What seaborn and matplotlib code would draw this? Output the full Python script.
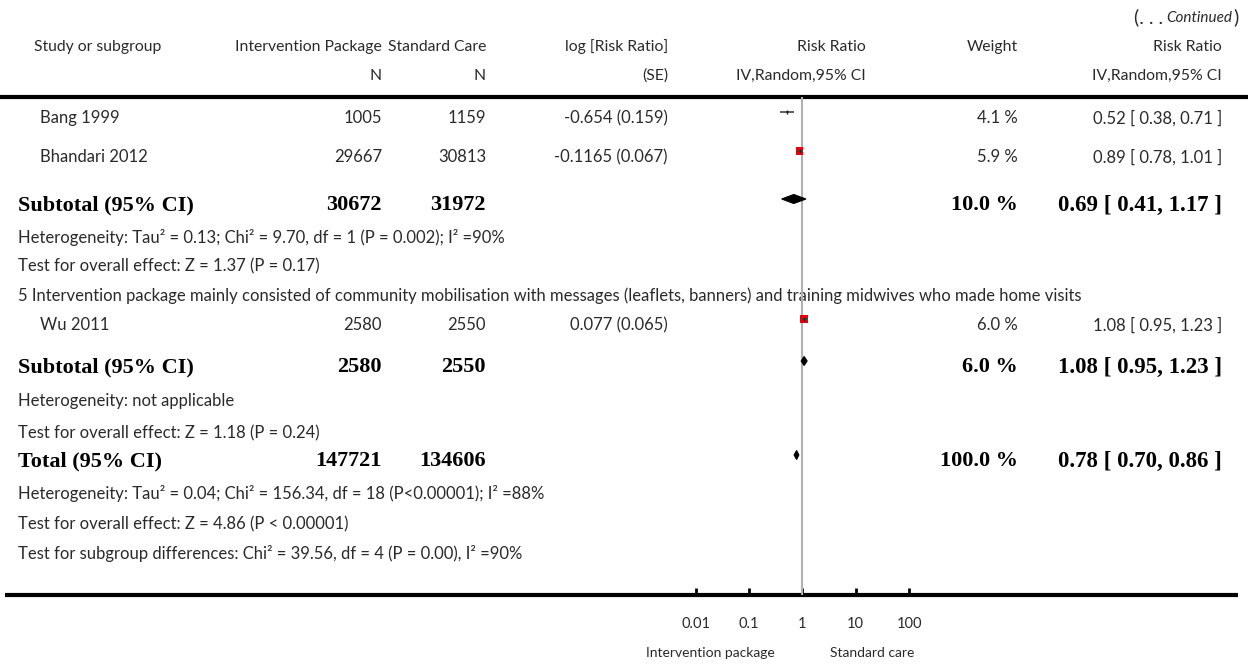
import numpy as np
import pandas as pd
import matplotlib
matplotlib.use("Agg")
import matplotlib.pyplot as plt
import seaborn as sns
from matplotlib.patches import Polygon

# ---------------- data ----------------
study_names = ["Bang 1999", "Bhandari 2012", "Wu 2011"]
study_n_int = [1005, 29667, 2580]
study_n_std = [1159, 30813, 2550]
study_logrr_se = ["-0.654 (0.159)", "-0.1165 (0.067)", "0.077 (0.065)"]
study_weight = [4.1, 5.9, 6.0]
study_rr = [0.52, 0.89, 1.08]
study_lo = [0.38, 0.78, 0.95]
study_hi = [0.71, 1.01, 1.23]

pooled_labels = ["Subtotal (95% CI)", "Subtotal (95% CI)", "Total (95% CI)"]
pooled_n_int = [30672, 2580, 147721]
pooled_n_std = [31972, 2550, 134606]
pooled_weight = [10.0, 6.0, 100.0]
pooled_rr = [0.69, 1.08, 0.78]
pooled_lo = [0.41, 0.95, 0.70]
pooled_hi = [1.17, 1.23, 0.86]

note_lines = [
    "Heterogeneity: Tau\u00b2 = 0.13; Chi\u00b2 = 9.70, df = 1 (P = 0.002); I\u00b2 =90%",
    "Test for overall effect: Z = 1.37 (P = 0.17)",
    "5 Intervention package mainly consisted of community mobilisation with messages (leaflets, banners) and training midwives who made home visits",
    "Heterogeneity: not applicable",
    "Test for overall effect: Z = 1.18 (P = 0.24)",
    "Heterogeneity: Tau\u00b2 = 0.04; Chi\u00b2 = 156.34, df = 18 (P<0.00001); I\u00b2 =88%",
    "Test for overall effect: Z = 4.86 (P < 0.00001)",
    "Test for subgroup differences: Chi\u00b2 = 39.56, df = 4 (P = 0.00), I\u00b2 =90%",
]

axis_ticks = [0.01, 0.1, 1, 10, 100]
axis_tick_labels = ["0.01", "0.1", "1", "10", "100"]
favours_left = "Intervention package"
favours_right = "Standard care"

# ---------------- layout (pixels) ----------------
W, H = 1248, 664
study_y = [118, 157, 325]
pooled_y = [205, 367, 461]
note_y = [237, 266, 296, 401, 433, 494, 524, 553]
mark_dy = -6
top_line_y, bottom_line_y = 97, 595
col_int, col_std, col_log, col_rr_hdr, col_w, col_rr = 382, 486, 668, 866, 1018, 1222

sns.set_theme(style="white")
plt.rcParams["font.family"] = ["Lato", "DejaVu Sans"]
sans = ["Lato", "DejaVu Sans"]
serif = ["Liberation Serif", "DejaVu Serif"]
txt_col = "#2a2a2a"
fs = 12
fsh = 11.3
fsb = 16

fig = plt.figure(figsize=(W / 100, H / 100), dpi=100)
ax = fig.add_axes([0, 0, 1, 1])
ax.set_xlim(0, W)
ax.set_ylim(H, 0)
ax.axis("off")

def t(x, y, s, ha="left", bold=False, size=None, **kw):
    if bold:
        ax.text(x, y, s, ha=ha, va="center", family=serif, fontweight="bold",
                fontsize=size or fsb, color="black", **kw)
    else:
        ax.text(x, y, s, ha=ha, va="center", family=sans, fontsize=size or fs,
                color=txt_col, **kw)

# continued
t(1239, 17, ")", ha="right", size=14)
t(1232, 18, "Continued", ha="right", style="italic", size=11)
t(1163, 17, "(. . .", ha="right", size=14)

# header
t(34, 47, "Study or subgroup", size=fsh)
t(col_int, 47, "Intervention Package", ha="right", size=fsh)
t(col_int, 76, "N", ha="right", size=fsh)
t(col_std, 47, "Standard Care", ha="right", size=fsh)
t(col_std, 76, "N", ha="right", size=fsh)
t(col_log, 47, "log [Risk Ratio]", ha="right", size=fsh)
t(col_log, 76, "(SE)", ha="right", size=fsh)
t(col_rr_hdr, 47, "Risk Ratio", ha="right", size=fsh)
t(col_rr_hdr, 76, "IV,Random,95% CI", ha="right", size=fsh)
t(col_w, 47, "Weight", ha="right", size=fsh)
t(col_rr, 47, "Risk Ratio", ha="right", size=fsh)
t(col_rr, 76, "IV,Random,95% CI", ha="right", size=fsh)

ax.plot([0, W], [top_line_y, top_line_y], color="black", lw=3, solid_capstyle="butt")
ax.plot([5, 1238], [bottom_line_y, bottom_line_y], color="black", lw=3, solid_capstyle="butt")

for i, name in enumerate(study_names):
    y = study_y[i]
    t(40, y, name)
    t(col_int, y, str(study_n_int[i]), ha="right")
    t(col_std, y, str(study_n_std[i]), ha="right")
    t(col_log, y, study_logrr_se[i], ha="right")
    t(col_w, y, f"{study_weight[i]:.1f} %", ha="right")
    t(col_rr, y, f"{study_rr[i]:.2f} [ {study_lo[i]:.2f}, {study_hi[i]:.2f} ]", ha="right")

for i, lab in enumerate(pooled_labels):
    y = pooled_y[i]
    t(18, y, lab, bold=True)
    t(col_int, y, str(pooled_n_int[i]), ha="right", bold=True)
    t(col_std, y, str(pooled_n_std[i]), ha="right", bold=True)
    t(col_w, y, f"{pooled_weight[i]:.1f} %", ha="right", bold=True)
    t(col_rr, y, f"{pooled_rr[i]:.2f} [ {pooled_lo[i]:.2f}, {pooled_hi[i]:.2f} ]", ha="right",
      bold=True, size=16.5)

for s, y in zip(note_lines, note_y):
    t(18, y, s)

t(710, 653, favours_left, ha="center", size=10)
t(872, 653, favours_right, ha="center", size=10)

# ---------------- forest axis ----------------
x0, x1 = 695.7, 909.0
axf = fig.add_axes([x0 / W, (H - bottom_line_y) / H, (x1 - x0) / W,
                    (bottom_line_y - top_line_y) / H])
axf.set_xscale("log")
axf.set_xlim(0.01, 100)
axf.set_ylim(bottom_line_y, top_line_y)
axf.patch.set_alpha(0)
for sp in axf.spines.values():
    sp.set_visible(False)

axf.axvline(1, color="#b0b0b0", lw=1.5, zorder=1)

df = pd.DataFrame({"rr": study_rr, "lo": study_lo, "hi": study_hi,
                   "y": [v + mark_dy for v in study_y], "w": study_weight})
sq_size = [4, 30, 30]
sns.scatterplot(data=df, x="rr", y="y", marker="s", s=sq_size, color="#e8000b",
                edgecolor="none", ax=axf, zorder=3, clip_on=False, legend=False)
axf.hlines(df["y"], df["lo"], df["hi"], color="#444444", lw=1.2, zorder=4)
axf.scatter(df["rr"], df["y"], marker="|", s=12, color="#222222", lw=1, zorder=5)

for i in range(len(pooled_rr)):
    y = pooled_y[i] + mark_dy
    hh = 4.5
    poly = Polygon([[pooled_lo[i], y], [pooled_rr[i], y - hh],
                    [pooled_hi[i], y], [pooled_rr[i], y + hh]],
                   closed=True, facecolor="black", edgecolor="black", lw=0.8,
                   zorder=5)
    axf.add_patch(poly)

axf.set_xlabel("")
axf.set_ylabel("")
axf.set_yticks([])
axf.set_xticks(axis_ticks)
axf.set_xticklabels(axis_tick_labels, family=sans, fontsize=10.5, color=txt_col)
axf.minorticks_off()
axf.tick_params(axis="x", direction="in", length=5, width=2, color="black",
                pad=16, bottom=True)
axf.set_xlim(0.01, 100)
axf.set_ylim(bottom_line_y, top_line_y)

fig.savefig("out.png", dpi=100)
